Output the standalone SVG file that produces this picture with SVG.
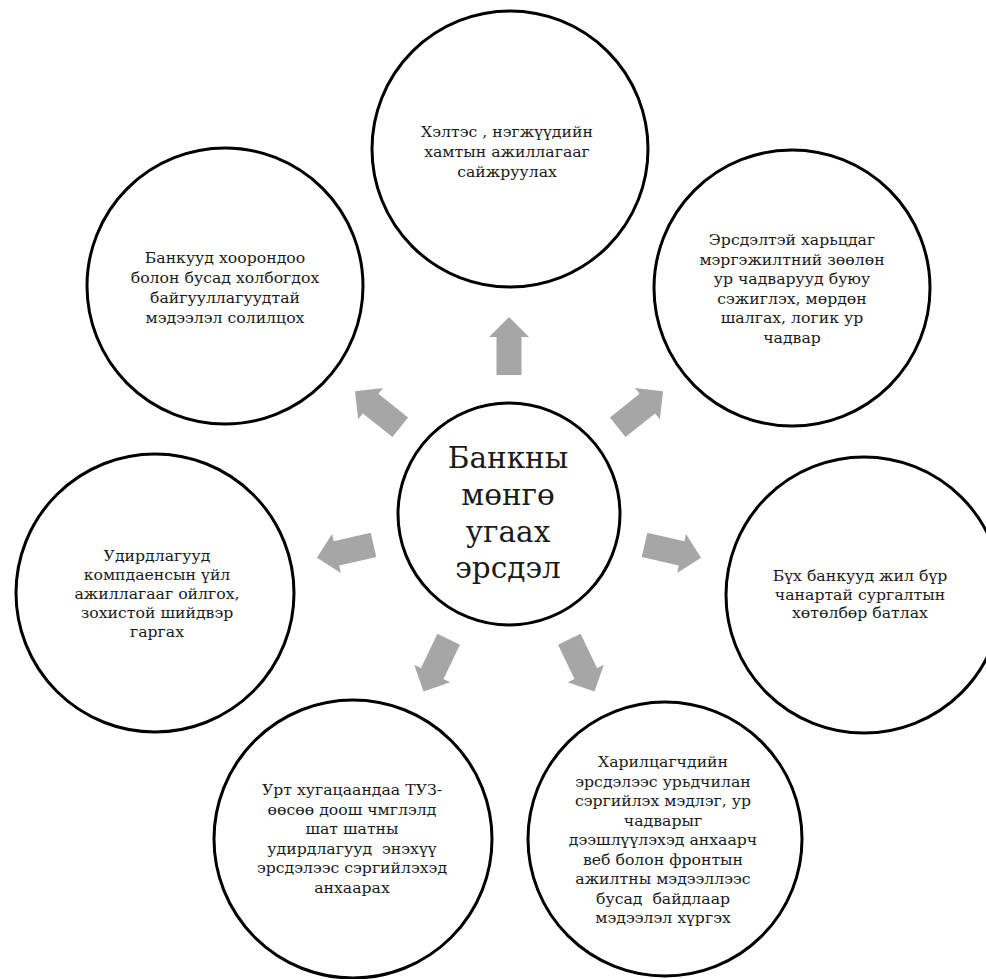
<svg xmlns="http://www.w3.org/2000/svg" xmlns:xlink="http://www.w3.org/1999/xlink" width="986" height="979" viewBox="0 0 986 979">
<style>
.c{fill:#fff;stroke:#000;stroke-width:3}
.t{font-family:"DejaVu Serif","Liberation Serif",serif;font-size:15.7px;fill:#1a1a1a;text-anchor:middle;white-space:pre}
.m{font-family:"DejaVu Serif","Liberation Serif",serif;font-size:29.5px;fill:#1a1a1a;text-anchor:middle}
.a{fill:#a6a6a6}
</style>
<defs>
<path id="arr" d="M-12.5,-139 L-12.5,-177 L-20,-177 L0,-197 L20,-177 L12.5,-177 L12.5,-139 Z"/>
</defs>
<rect width="986" height="979" fill="#fff"/>
<g id="connectors" class="a">
<use xlink:href="#arr" transform="translate(509,514) rotate(0)"/>
<use xlink:href="#arr" transform="translate(509,514) rotate(51.43)"/>
<use xlink:href="#arr" transform="translate(509,514) rotate(102.86)"/>
<use xlink:href="#arr" transform="translate(509,514) rotate(154.29)"/>
<use xlink:href="#arr" transform="translate(509,514) rotate(205.71)"/>
<use xlink:href="#arr" transform="translate(509,514) rotate(257.14)"/>
<use xlink:href="#arr" transform="translate(509,514) rotate(308.57)"/>
</g>
<g id="center">
<circle class="c" cx="509" cy="514" r="111"/>
<text class="m" x="508" y="468">Банкны</text>
<text class="m" x="508" y="505">мөнгө</text>
<text class="m" x="508" y="542">угаах</text>
<text class="m" x="508" y="578">эрсдэл</text>
</g>
<g id="node-top">
<circle class="c" cx="510" cy="149" r="138"/>
<text class="t" x="507" y="137">Хэлтэс , нэгжүүдийн</text>
<text class="t" x="507" y="157">хамтын ажиллагааг</text>
<text class="t" x="507" y="177">сайжруулах</text>
</g>
<g id="node-topright">
<circle class="c" cx="792" cy="288" r="138"/>
<text class="t" x="792" y="245">Эрсдэлтэй харьцдаг</text>
<text class="t" x="792" y="264.5">мэргэжилтний зөөлөн</text>
<text class="t" x="792" y="284">ур чадварууд буюу</text>
<text class="t" x="792" y="303.5">сэжиглэх, мөрдөн</text>
<text class="t" x="792" y="323">шалгах, логик ур</text>
<text class="t" x="792" y="342.5">чадвар</text>
</g>
<g id="node-right">
<circle class="c" cx="864" cy="595" r="138"/>
<text class="t" x="860" y="581">Бүх банкууд жил бүр</text>
<text class="t" x="860" y="599.5">чанартай сургалтын</text>
<text class="t" x="860" y="618">хөтөлбөр батлах</text>
</g>
<g id="node-bottomright">
<circle class="c" cx="665" cy="839" r="137"/>
<text class="t" x="663" y="767">Харилцагчдийн</text>
<text class="t" x="663" y="786.5">эрсдэлээс урьдчилан</text>
<text class="t" x="663" y="806">сэргийлэх мэдлэг, ур</text>
<text class="t" x="663" y="825.5">чадварыг</text>
<text class="t" x="663" y="845">дээшлүүлэхэд анхаарч</text>
<text class="t" x="663" y="864.5">веб болон фронтын</text>
<text class="t" x="663" y="884">ажилтны мэдээллээс</text>
<text class="t" x="663" y="903.5">бусад  байдлаар</text>
<text class="t" x="663" y="923">мэдээлэл хүргэх</text>
</g>
<g id="node-bottomleft">
<circle class="c" cx="353" cy="839" r="139"/>
<text class="t" x="352" y="795">Урт хугацаандаа ТУЗ-</text>
<text class="t" x="352" y="814.6">өөсөө доош чмглэлд</text>
<text class="t" x="352" y="834.2">шат шатны</text>
<text class="t" x="352" y="853.8">удирдлагууд  энэхүү</text>
<text class="t" x="352" y="873.4">эрсдэлээс сэргийлэхэд</text>
<text class="t" x="352" y="893">анхаарах</text>
</g>
<g id="node-left">
<circle class="c" cx="155" cy="593" r="139"/>
<text class="t" x="157" y="561">Удирдлагууд</text>
<text class="t" x="157" y="580">компдаенсын үйл</text>
<text class="t" x="157" y="599">ажиллагааг ойлгох,</text>
<text class="t" x="157" y="618">зохистой шийдвэр</text>
<text class="t" x="157" y="637">гаргах</text>
</g>
<g id="node-topleft">
<circle class="c" cx="225" cy="286" r="138"/>
<text class="t" x="225" y="263">Банкууд хоорондоо</text>
<text class="t" x="225" y="283">болон бусад холбогдох</text>
<text class="t" x="225" y="303">байгууллагуудтай</text>
<text class="t" x="225" y="323">мэдээлэл солилцох</text>
</g>
</svg>
